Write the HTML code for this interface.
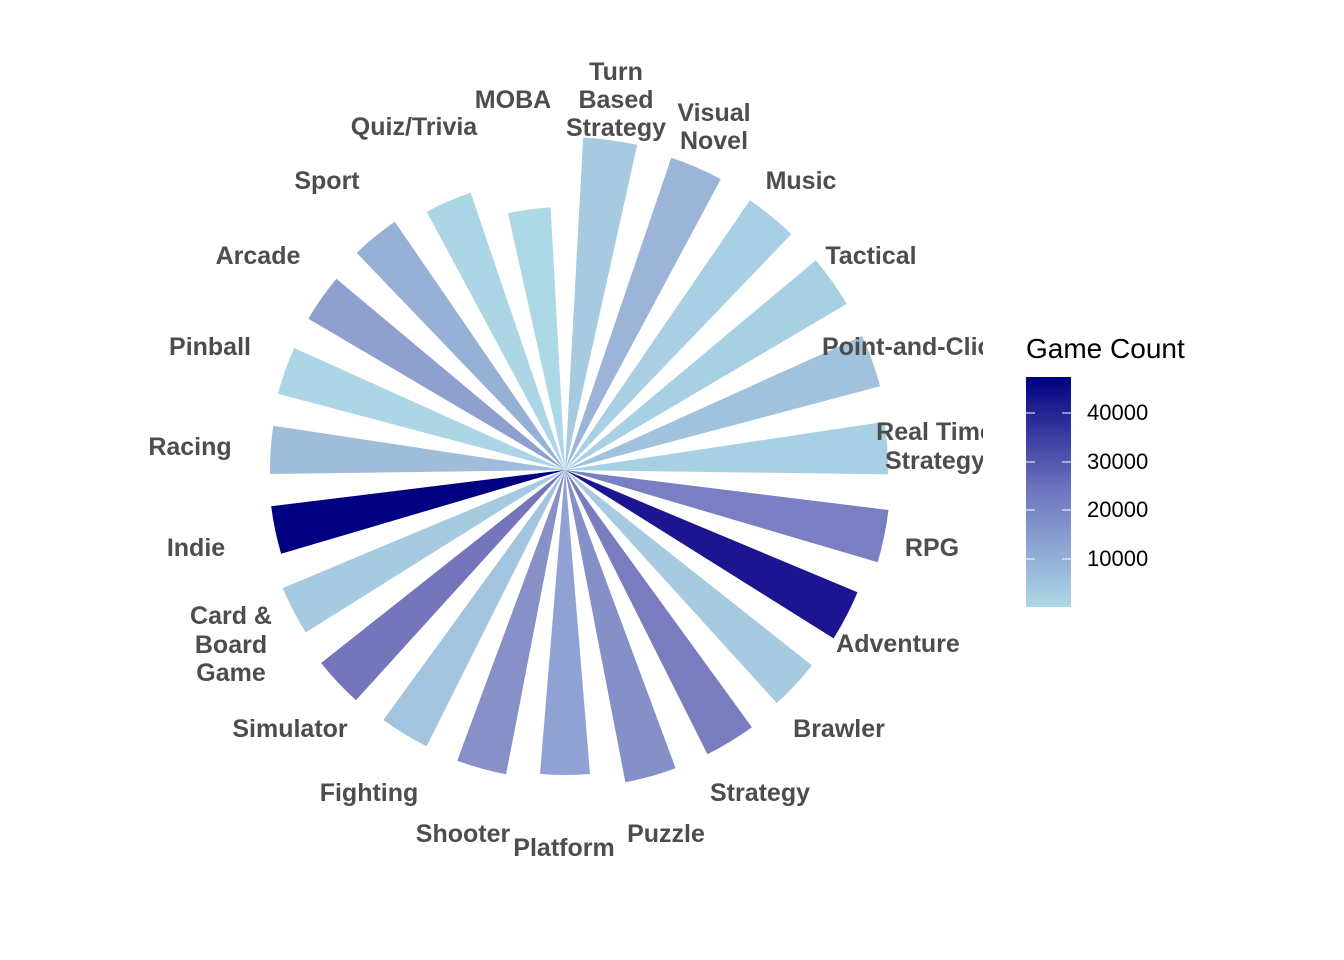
<!DOCTYPE html>
<html><head><meta charset="utf-8">
<style>
html,body{margin:0;padding:0;background:#fff;}
svg{display:block;font-family:"Liberation Sans",sans-serif;}
.l{font-weight:bold;font-size:25px;fill:#4d4d4d;text-anchor:middle;}
</style></head>
<body>
<svg id="s" width="1344" height="960" viewBox="0 0 1344 960">
<defs>
<clipPath id="c"><rect x="0" y="0" width="983" height="960"/></clipPath>
<linearGradient id="g" x1="0" y1="1" x2="0" y2="0">
<stop offset="0" stop-color="#ADD8E6"/><stop offset="0.5" stop-color="#6f77c0"/><stop offset="1" stop-color="#000080"/>
</linearGradient>
</defs>
<g clip-path="url(#c)">
<g id="bars"></g>
<text class="l" x="616" y="80">Turn</text>
<text class="l" x="616" y="108">Based</text>
<text class="l" x="616" y="136">Strategy</text>
<text class="l" x="714" y="121">Visual</text>
<text class="l" x="714" y="149">Novel</text>
<text class="l" x="801" y="189">Music</text>
<text class="l" x="871" y="264">Tactical</text>
<text class="l" x="822" y="355" style="text-anchor:start">Point-and-Click</text>
<text class="l" x="935" y="440">Real Time</text>
<text class="l" x="935" y="469">Strategy</text>
<text class="l" x="932" y="556">RPG</text>
<text class="l" x="898" y="652">Adventure</text>
<text class="l" x="839" y="737">Brawler</text>
<text class="l" x="760" y="801">Strategy</text>
<text class="l" x="666" y="842">Puzzle</text>
<text class="l" x="564" y="856">Platform</text>
<text class="l" x="463" y="842">Shooter</text>
<text class="l" x="369" y="801">Fighting</text>
<text class="l" x="290" y="737">Simulator</text>
<text class="l" x="231" y="624">Card &amp;</text>
<text class="l" x="231" y="653">Board</text>
<text class="l" x="231" y="681">Game</text>
<text class="l" x="196" y="556">Indie</text>
<text class="l" x="190" y="455">Racing</text>
<text class="l" x="210" y="355">Pinball</text>
<text class="l" x="258" y="264">Arcade</text>
<text class="l" x="327" y="189">Sport</text>
<text class="l" x="414" y="135">Quiz/Trivia</text>
<text class="l" x="513" y="108">MOBA</text>
</g>
<text x="1026" y="358" font-size="28" fill="#000">Game Count</text>
<rect x="1026" y="377" width="45" height="230" fill="url(#g)"/>
<g stroke="#fff" stroke-width="1">
<line x1="1026" y1="413" x2="1035" y2="413"/><line x1="1062" y1="413" x2="1071" y2="413"/>
<line x1="1026" y1="462" x2="1035" y2="462"/><line x1="1062" y1="462" x2="1071" y2="462"/>
<line x1="1026" y1="510" x2="1035" y2="510"/><line x1="1062" y1="510" x2="1071" y2="510"/>
<line x1="1026" y1="559" x2="1035" y2="559"/><line x1="1062" y1="559" x2="1071" y2="559"/>
</g>
<g font-size="22" fill="#000">
<text x="1087" y="420">40000</text>
<text x="1087" y="469">30000</text>
<text x="1087" y="517">20000</text>
<text x="1087" y="566">10000</text>
</g>
</svg>
<script>
var d=[[333,"#a6cbe1"],[330,"#9bb4d8"],[327,"#a8cfe3"],[327,"#a8d0e3"],[326,"#a1c2dd"],[323,"#a8d0e4"],[326,"#7a7fc4"],[317,"#1c1490"],[315,"#a6cbe1"],[318,"#7a7cc0"],[318,"#858fc8"],[305,"#8fa2d3"],[310,"#8890c8"],[309,"#a2c4de"],[311,"#7575bb"],[306,"#a6cbe1"],[296,"#000080"],[295,"#9fbcda"],[297,"#acd6e6"],[298,"#8fa0cf"],[301,"#97b0d6"],[293,"#acd6e6"],[263,"#add8e6"]];
var cx=565,cy=470,n=23,step=2*Math.PI/n,hw=step*0.3,h="";
for(var i=0;i<n;i++){var a=(i+0.5)*step,r=d[i][0],a1=a-hw,a2=a+hw;
var x1=cx+r*Math.sin(a1),y1=cy-r*Math.cos(a1),x2=cx+r*Math.sin(a2),y2=cy-r*Math.cos(a2);
h+='<path d="M'+cx+' '+cy+' L'+x1.toFixed(1)+' '+y1.toFixed(1)+' A'+r+' '+r+' 0 0 1 '+x2.toFixed(1)+' '+y2.toFixed(1)+' Z" fill="'+d[i][1]+'"/>';}
document.getElementById("bars").innerHTML=h;
</script>
</body></html>
